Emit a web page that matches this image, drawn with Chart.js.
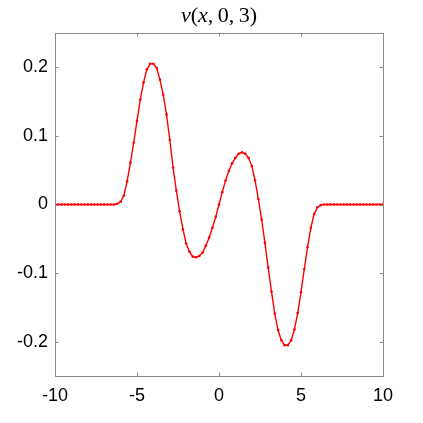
<!DOCTYPE html>
<html>
<head>
<meta charset="utf-8">
<script src="https://cdn.jsdelivr.net/npm/chart.js@4/dist/chart.umd.min.js"></script>
<style>
  html, body { margin: 0; padding: 0; background: #fff; }
  #wrap { width: 423px; height: 423px; position: relative; }
</style>
</head>
<body>
<div id="wrap"><canvas id="chart"></canvas></div>
<script>
// x positions of the samples
const xValues = [
  -10, -9.8, -9.6, -9.4, -9.2, -9, -8.8, -8.6, -8.4, -8.2,
  -8, -7.8, -7.6, -7.4, -7.2, -7, -6.8, -6.6, -6.4, -6.2,
  -6, -5.8, -5.6, -5.4, -5.2, -5, -4.8, -4.6, -4.4, -4.2,
  -4, -3.8, -3.6, -3.4, -3.2, -3, -2.8, -2.6, -2.4, -2.2,
  -2, -1.8, -1.6, -1.4, -1.2, -1, -0.8, -0.6, -0.4, -0.2,
  0,
  0.2, 0.4, 0.6, 0.8, 1, 1.2, 1.4, 1.6, 1.8, 2,
  2.2, 2.4, 2.6, 2.8, 3, 3.2, 3.4, 3.6, 3.8, 4,
  4.2, 4.4, 4.6, 4.8, 5, 5.2, 5.4, 5.6, 5.8, 6,
  6.2, 6.4, 6.6, 6.8, 7, 7.2, 7.4, 7.6, 7.8, 8,
  8.2, 8.4, 8.6, 8.8, 9, 9.2, 9.4, 9.6, 9.8, 10
];

// v(x,0,3)
const vValues = [
  0, 0, 0, 0, 0, 0, 0, 0, 0, 0,
  0, 0, 0, 0, 0, 0, 0, 0, 0, 0.001,
  0.004, 0.013, 0.034, 0.061, 0.090, 0.122, 0.153, 0.178, 0.197, 0.205,
  0.205, 0.199, 0.182, 0.160, 0.131, 0.094, 0.054, 0.020, -0.010, -0.036,
  -0.057, -0.069, -0.076, -0.077, -0.075, -0.070, -0.060, -0.048, -0.034, -0.018,
  0,
  0.018, 0.035, 0.049, 0.060, 0.068, 0.074, 0.076, 0.074, 0.068, 0.056,
  0.035, 0.008, -0.022, -0.056, -0.092, -0.127, -0.159, -0.183, -0.198, -0.205,
  -0.205, -0.198, -0.182, -0.158, -0.128, -0.094, -0.062, -0.034, -0.014, -0.004,
  -0.001, 0, 0, 0, 0, 0, 0, 0, 0, 0,
  0, 0, 0, 0, 0, 0, 0, 0, 0, 0
];

const xTicks = [-10, -5, 0, 5, 10];
const yTicks = [-0.2, -0.1, 0, 0.1, 0.2];

const axisColor = '#8a8a8a';
const labelFont = { family: "'Liberation Sans', Arial, sans-serif", size: 18 };

// box round the plot plus inward tick marks, matlab style
const boxPlugin = {
    id: 'boxPlugin',
    afterDraw(chart) {
        const { ctx, chartArea: a, scales } = chart;
        ctx.save();
        ctx.strokeStyle = axisColor;
        ctx.lineWidth = 1;
        ctx.strokeRect(Math.round(a.left) + 0.5, Math.round(a.top) + 0.5,
            Math.round(a.right - a.left), Math.round(a.bottom - a.top));
        const len = 3.5;
        ctx.beginPath();
        xTicks.forEach(v => {
            const px = Math.round(scales.x.getPixelForValue(v)) + 0.5;
            ctx.moveTo(px, a.bottom); ctx.lineTo(px, a.bottom - len);
            ctx.moveTo(px, a.top); ctx.lineTo(px, a.top + len);
        });
        yTicks.forEach(v => {
            const py = Math.round(scales.y.getPixelForValue(v)) + 0.5;
            ctx.moveTo(a.left, py); ctx.lineTo(a.left + len, py);
            ctx.moveTo(a.right, py); ctx.lineTo(a.right - len, py);
        });
        ctx.stroke();
        ctx.restore();
    }
};

// title with italic variables, like latex math
const titlePlugin = {
    id: 'titlePlugin',
    afterDraw(chart) {
        const { ctx, chartArea: a } = chart;
        const parts = [
            ['v', true], ['(', false], ['x', true], [',\u20090,\u20093)', false]
        ];
        const size = 22;
        const fam = "'Liberation Serif', 'DejaVu Serif', serif";
        ctx.save();
        ctx.fillStyle = '#000';
        ctx.textBaseline = 'alphabetic';
        let total = 0;
        parts.forEach(p => {
            ctx.font = (p[1] ? 'italic ' : '') + size + 'px ' + fam;
            total += ctx.measureText(p[0]).width;
        });
        let x = (a.left + a.right) / 2 - total / 2;
        parts.forEach(p => {
            ctx.font = (p[1] ? 'italic ' : '') + size + 'px ' + fam;
            ctx.fillText(p[0], x, 22);
            x += ctx.measureText(p[0]).width;
        });
        ctx.restore();
    }
};

const ctx = document.getElementById('chart').getContext('2d');
new Chart(ctx, {
    type: 'line',
    data: {
        datasets: [{
            data: xValues.map((x, i) => ({ x: x, y: vValues[i] })),
            borderColor: '#ff0000',
            backgroundColor: '#ff0000',
            borderWidth: 1.4,
            pointRadius: 1.3,
            pointBorderWidth: 0,
            pointBackgroundColor: '#ff0000',
            tension: 0
        }]
    },
    options: {
        responsive: true,
        maintainAspectRatio: false,
        animation: false,
        layout: { padding: { left: 0, right: 40, top: 33, bottom: 0 } },
        scales: {
            x: {
                type: 'linear',
                min: -10,
                max: 10,
                afterBuildTicks: scale => { scale.ticks = xTicks.map(v => ({ value: v })); },
                afterFit: scale => { scale.height = 47; },
                grid: { display: false, drawTicks: false },
                border: { display: false },
                ticks: {
                    padding: 9,
                    color: '#000',
                    font: labelFont,
                    maxRotation: 0,
                    callback: v => String(v)
                }
            },
            y: {
                type: 'linear',
                min: -0.25,
                max: 0.25,
                afterBuildTicks: scale => { scale.ticks = yTicks.map(v => ({ value: v })); },
                afterFit: scale => { scale.width = 55; },
                grid: { display: false, drawTicks: false },
                border: { display: false },
                ticks: {
                    padding: 7,
                    color: '#000',
                    font: labelFont,
                    callback: v => String(Math.round(v * 10) / 10)
                }
            }
        },
        plugins: {
            legend: { display: false },
            title: { display: false },
            tooltip: { enabled: false }
        }
    },
    plugins: [boxPlugin, titlePlugin]
});
</script>
</body>
</html>
